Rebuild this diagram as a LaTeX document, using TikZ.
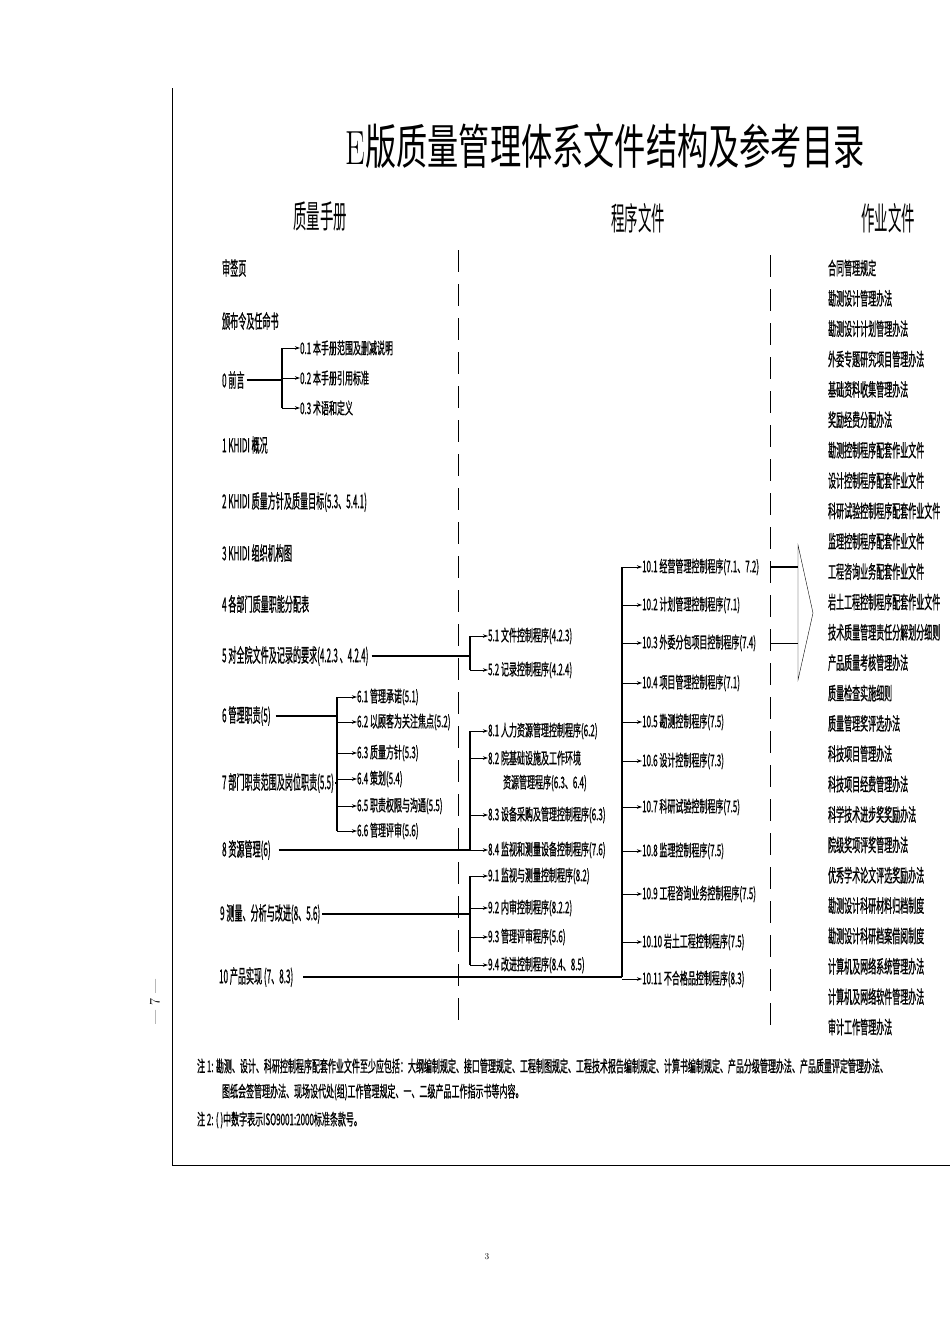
\documentclass[tikz,border=0pt]{standalone}
\usepackage{fontspec}
\newfontfamily\cjk{Noto Sans CJK SC}
\newfontfamily\cjkb{Noto Sans CJK SC}[FakeBold=1.2]
\usetikzlibrary{arrows.meta}

\begin{document}
\begin{tikzpicture}[x=1pt,y=-1pt,
    ttl/.style={font=\cjk\fontsize{48}{48}\selectfont, xscale=0.65, inner sep=0},
    hd/.style={font=\cjk\fontsize{32}{32}\selectfont, xscale=0.42, inner sep=0},
    sec/.style={anchor=west, font=\cjkb\fontsize{19}{19}\selectfont, xscale=0.425, inner sep=0},
    sub/.style={anchor=west, font=\cjkb\fontsize{16}{16}\selectfont, xscale=0.5, inner sep=0},
    wi/.style={anchor=west, font=\cjkb\fontsize{18}{18}\selectfont, xscale=0.445, inner sep=0},
    note/.style={anchor=west, font=\cjkb\fontsize{16}{16}\selectfont, xscale=0.5, inner sep=0},
    sep/.style={line width=0.8pt, dash pattern=on 22pt off 12pt},
    trunk/.style={line width=1.3pt},
    twig/.style={line width=0.9pt, -{Stealth[length=5pt,width=3.5pt]}},
  ]
    \useasboundingbox (0,0) rectangle (950,1344);

    % frame
    \coordinate (ftop) at (172,88);
    \coordinate (fbot) at (172,1165);
    \coordinate (fend) at (950,1165);
    \draw [line width=1pt] (ftop) -- (fbot) -- (fend);
    \node [rotate=90, font=\Large] (pg7) at (155,1002) {--- 7 ---};
    \node [font=\small] (pg3) at (487,1257) {3};

    % title
    \node [ttl] (title) at (605,146) {{\rmfamily E}版质量管理体系文件结构及参考目录};
    \node [hd] (hman) at (320,216) {质量手册};
    \node [hd] (hproc) at (638,218) {程序文件};
    \node [hd] (hwork) at (888,218) {作业文件};

    % separators
    \coordinate (sa1) at (458,250);
    \coordinate (sa2) at (458,1030);
    \coordinate (sb1) at (770,255);
    \coordinate (sb2) at (770,1030);
    \draw [sep] (sa1) -- (sa2);
    \draw [sep] (sb1) -- (sb2);

    % junctions
    \coordinate (j0) at (282,0);
    \coordinate (j5) at (470,0);
    \coordinate (j6) at (337,0);
    \coordinate (j10) at (622,0);

    % manual
    \node [sec] (m00) at (222,268) {审签页};
    \node [sec] (m01) at (222,321) {颁布令及任命书};
    \node [sec] (m0) at (222,380) {0 前言};
    \node [sub] (m0a) at (300,348) {0.1 本手册范围及删减说明};
    \node [sub] (m0b) at (300,378) {0.2 本手册引用标准};
    \node [sub] (m0c) at (300,408) {0.3 术语和定义};
    \node [sec] (m1) at (222,445) {1 KHIDI 概况};
    \node [sec] (m2) at (222,502) {2 KHIDI 质量方针及质量目标(5.3、5.4.1)};
    \node [sec] (m3) at (222,553) {3 KHIDI 组织机构图};
    \node [sec] (m4) at (222,604) {4 各部门质量职能分配表};
    \node [sec] (m5) at (222,656) {5 对全院文件及记录的要求(4.2.3 、4.2.4)};
    \node [sec] (m6) at (222,716) {6 管理职责(5)};
    \node [sub] (m6a) at (357,697) {6.1 管理承诺(5.1)};
    \node [sub] (m6b) at (357,722) {6.2 以顾客为关注焦点(5.2)};
    \node [sub] (m6c) at (357,753) {6.3 质量方针(5.3)};
    \node [sub] (m6d) at (357,779) {6.4 策划(5.4)};
    \node [sub] (m6e) at (357,806) {6.5 职责权限与沟通(5.5)};
    \node [sub] (m6f) at (357,831) {6.6 管理评审(5.6)};
    \node [sec] (m7) at (222,783) {7 部门职责范围及岗位职责(5.5)};
    \node [sec] (m8) at (222,850) {8 资源管理(6)};
    \node [sec] (m9) at (220,914) {9 测量、分析与改进(8、5.6)};
    \node [sec] (m10) at (219,977) {10 产品实现 (7、8.3)};

    % procedures
    \node [sub] (p51) at (488,636) {5.1 文件控制程序(4.2.3)};
    \node [sub] (p52) at (488,670) {5.2 记录控制程序(4.2.4)};
    \node [sub] (p81) at (488,731) {8.1 人力资源管理控制程序(6.2)};
    \node [sub] (p82) at (488,758) {8.2 院基础设施及工作环境};
    \node [sub] (p82b) at (503,783) {资源管理程序(6.3、6.4)};
    \node [sub] (p83) at (488,815) {8.3 设备采购及管理控制程序(6.3)};
    \node [sub] (p84) at (488,850) {8.4 监视和测量设备控制程序(7.6)};
    \node [sub] (p91) at (488,876) {9.1 监视与测量控制程序(8.2)};
    \node [sub] (p92) at (488,908) {9.2 内审控制程序(8.2.2)};
    \node [sub] (p93) at (488,937) {9.3 管理评审程序(5.6)};
    \node [sub] (p94) at (488,965) {9.4 改进控制程序(8.4、8.5)};
    \node [sub] (p101) at (642,567) {10.1 经营管理控制程序(7.1、7.2)};
    \node [sub] (p102) at (642,605) {10.2 计划管理控制程序(7.1)};
    \node [sub] (p103) at (642,643) {10.3 外委分包项目控制程序(7.4)};
    \node [sub] (p104) at (642,683) {10.4 项目管理控制程序(7.1)};
    \node [sub] (p105) at (642,722) {10.5 勘测控制程序(7.5)};
    \node [sub] (p106) at (642,761) {10.6 设计控制程序(7.3)};
    \node [sub] (p107) at (642,807) {10.7 科研试验控制程序(7.5)};
    \node [sub] (p108) at (642,851) {10.8 监理控制程序(7.5)};
    \node [sub] (p109) at (642,894) {10.9 工程咨询业务控制程序(7.5)};
    \node [sub] (p1010) at (642,942) {10.10 岩土工程控制程序(7.5)};
    \node [sub] (p1011) at (642,979) {10.11 不合格品控制程序(8.3)};

    % work files
    \foreach \t [count=\i] in {合同管理规定, 勘测设计管理办法, 勘测设计计划管理办法,
        外委专题研究项目管理办法, 基础资料收集管理办法, 奖励经费分配办法,
        勘测控制程序配套作业文件, 设计控制程序配套作业文件, 科研试验控制程序配套作业文件,
        监理控制程序配套作业文件, 工程咨询业务配套作业文件, 岩土工程控制程序配套作业文件,
        技术质量管理责任分解划分细则, 产品质量考核管理办法, 质量检查实施细则,
        质量管理奖评选办法, 科技项目管理办法, 科技项目经费管理办法,
        科学技术进步奖奖励办法, 院级奖项评奖管理办法, 优秀学术论文评选奖励办法,
        勘测设计科研材料归档制度, 勘测设计科研档案借阅制度, 计算机及网络系统管理办法,
        计算机及网络软件管理办法, 审计工作管理办法}
      \node [wi] (w\i) at (828,{268+(\i-1)*30.36}) {\t};

    % 0
    \draw [trunk] ([xshift=2pt]m0.east) -- (j0 |- m0.east);
    \draw [trunk] (j0 |- m0a) -- (j0 |- m0c);
    \foreach \n in {m0a,m0b,m0c}
      \draw [twig] (j0 |- \n.west) -- (\n.west);

    % 5
    \draw [trunk] ([xshift=3pt]m5.east) -- (j5 |- m5.east);
    \draw [trunk] (j5 |- p51) -- (j5 |- p52);
    \foreach \n in {p51,p52}
      \draw [twig] (j5 |- \n.west) -- (\n.west);

    % 6 and 7
    \draw [trunk] ([xshift=5pt]m6.east) -- (j6 |- m6.east);
    \draw [trunk] ([xshift=1pt]m7.east) -- (j6 |- m7.east);
    \draw [trunk] (j6 |- m6a) -- (j6 |- m6f);
    \foreach \n in {m6a,m6b,m6c,m6d,m6e,m6f}
      \draw [twig] (j6 |- \n.west) -- (\n.west);

    % 8
    \draw [trunk] ([xshift=8pt]m8.east) -- (j5 |- m8.east);
    \draw [trunk] (j5 |- p81) -- (j5 |- p84);
    \foreach \n in {p81,p82,p83,p84}
      \draw [twig] (j5 |- \n.west) -- (\n.west);

    % 9
    \draw [trunk] ([xshift=2pt]m9.east) -- (j5 |- m9.east);
    \draw [trunk] (j5 |- p91) -- (j5 |- p94);
    \foreach \n in {p91,p92,p93,p94}
      \draw [twig] (j5 |- \n.west) -- (\n.west);

    % 10
    \draw [trunk] ([xshift=10pt]m10.east) -- (j10 |- m10.east);
    \draw [trunk] (j10 |- p101) -- (j10 |- m10.east);
    \foreach \n in {p101,p102,p103,p104,p105,p106,p107,p108,p109,p1010,p1011}
      \draw [twig] (j10 |- \n.west) -- (\n.west);

    % big arrow
    \coordinate (at) at (798,545);
    \coordinate (ab) at (798,680);
    \coordinate (atip) at (813,613);
    \draw [thin] (at) -- (atip) -- (ab) -- cycle;
    \draw [trunk] (sb1 |- p101) -- (at |- p101);
    \draw [line width=1pt] (sb1 |- p103) -- (at |- p103);

    % notes
    \node [note] (n1) at (197,1066) {注 1: 勘测、设计、科研控制程序配套作业文件至少应包括：大纲编制规定、接口管理规定、工程制图规定、工程技术报告编制规定、计算书编制规定、产品分级管理办法、产品质量评定管理办法、};
    \node [note] (n1b) at (222,1092) {图纸会签管理办法、现场设代处(组)工作管理规定、一、二级产品工作指示书等内容。};
    \node [note] (n2) at (197,1120) {注 2: ( )中数字表示ISO9001:2000标准条款号。};
\end{tikzpicture}
\end{document}
